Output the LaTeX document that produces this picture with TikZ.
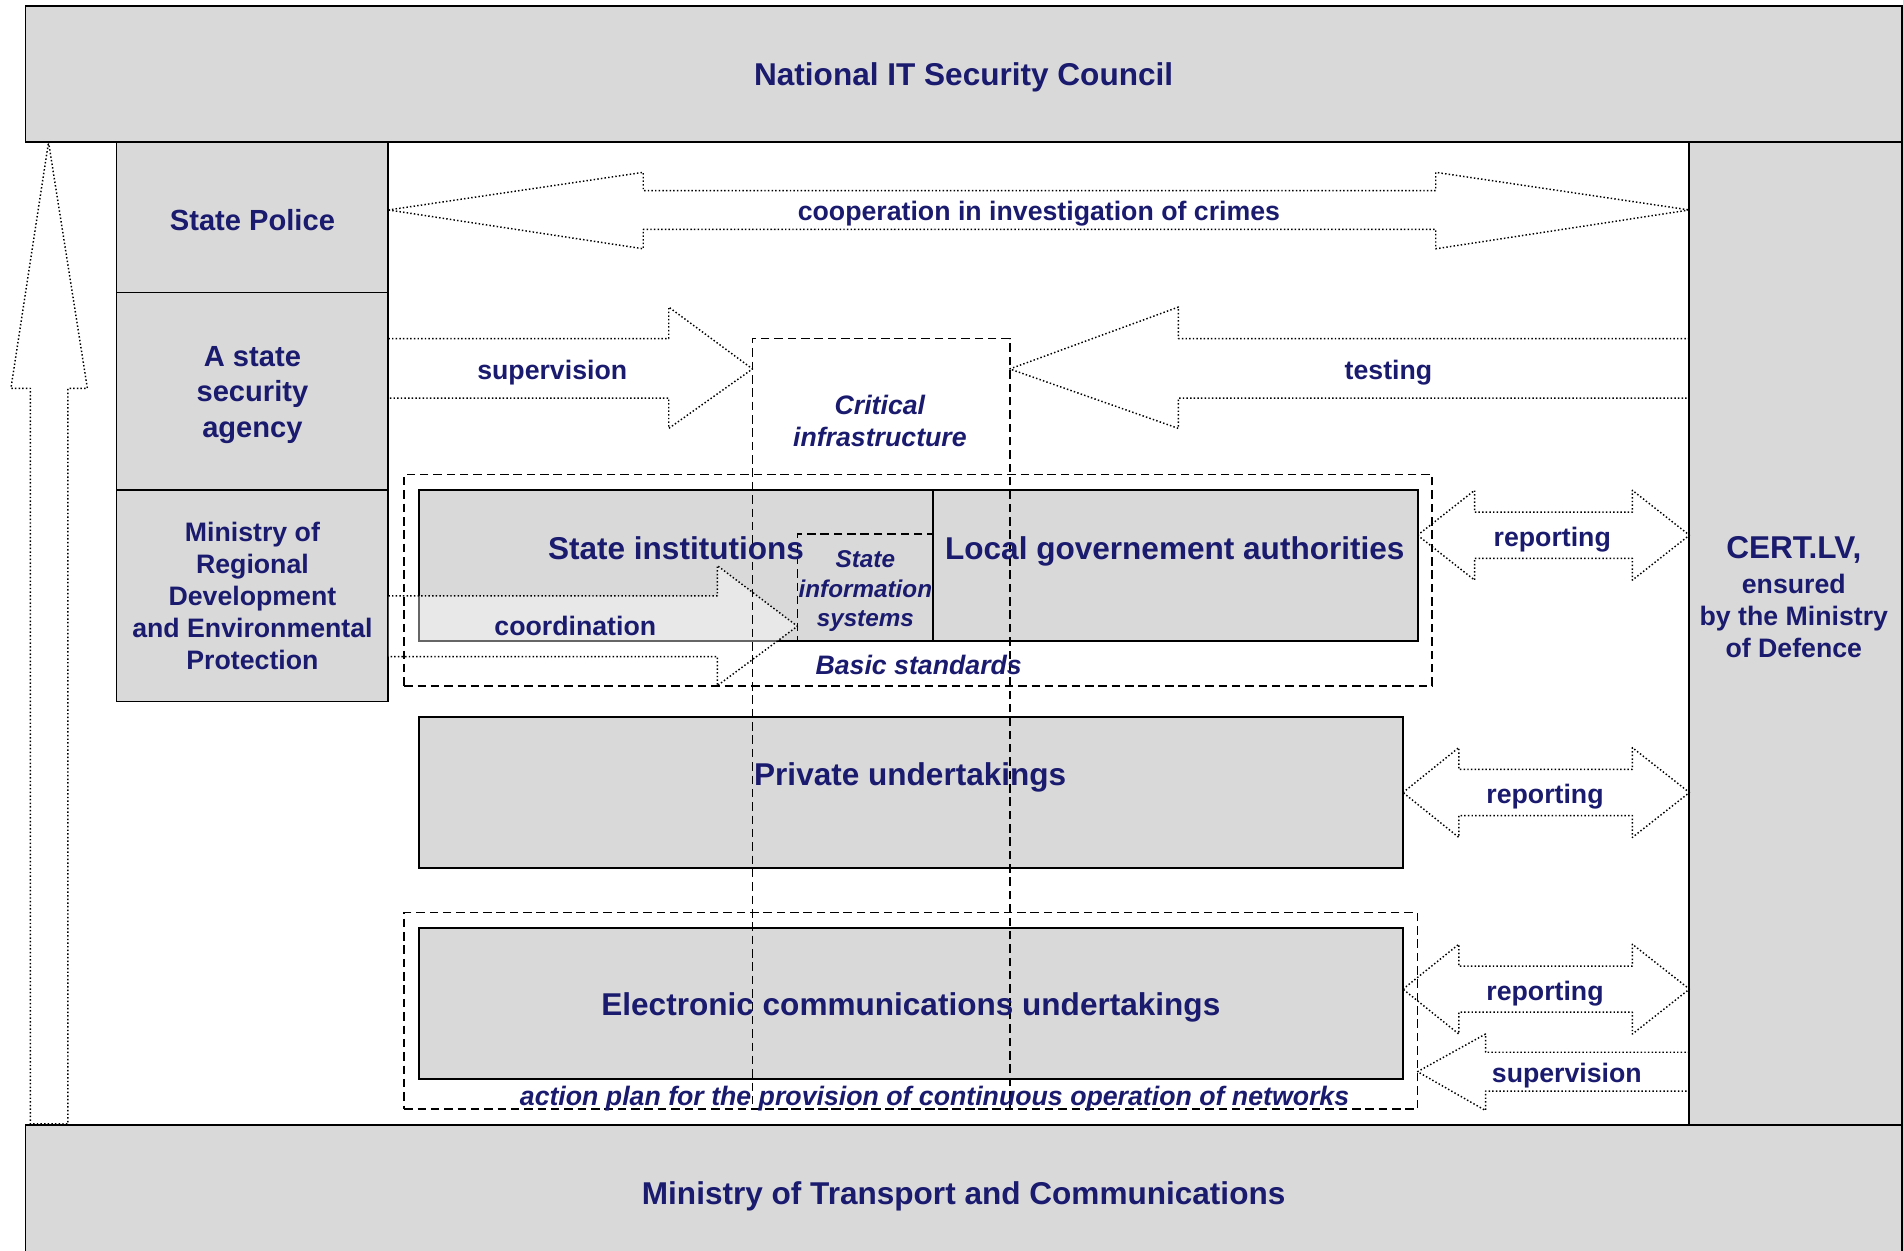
\documentclass[tikz,border=0pt]{standalone}
\usepackage{fontspec}
\setmainfont{Liberation Sans}
\usepackage{xcolor}
\usepackage{tikz}
\usetikzlibrary{positioning}

\definecolor{boxgray}{RGB}{217,217,217}
\definecolor{navy}{RGB}{26,26,110}

\begin{document}
\begin{tikzpicture}[x=1pt, y=-1pt,
  box/.style={draw, line width=1.6pt, fill=boxgray, inner sep=0pt, outer sep=0pt},
  frame/.style={draw, line width=1.3pt, dash pattern=on 7pt off 4pt, inner sep=0pt, outer sep=0pt},
  flow/.style={draw, line width=1.2pt, dash pattern=on 1.2pt off 1.8pt, line join=round},
  txt/.style={text=navy, font=\fontsize{22}{26.3}\selectfont\bfseries, align=center, inner sep=0pt},
  bigtxt/.style={txt, font=\fontsize{26}{30}\selectfont\bfseries},
  midtxt/.style={txt, font=\fontsize{24}{29.5}\selectfont\bfseries},
  ittxt/.style={txt, font=\fontsize{22}{26}\selectfont\bfseries\itshape}]

  \useasboundingbox (0,0) rectangle (1568,1030);

  \node[box, minimum width=1546pt, minimum height=112pt, anchor=north west] (council) at (21,5) {};
  \node[box, minimum width=1546pt, minimum height=114pt, anchor=north west] (transport) at (21,927) {};
  \node[box, minimum width=175pt, minimum height=810pt, anchor=north west] (cert) at (1392,117) {};

  \node[box, minimum width=224pt, minimum height=124pt, anchor=north west] (police) at (96,117) {};
  \node[box, minimum width=224pt, minimum height=163pt] (agency) [below=0pt of police] {};
  \node[box, txt, minimum width=224pt, minimum height=174pt] (regional) [below=0pt of agency] {Ministry of\\Regional\\Development\\and Environmental\\Protection};

  \node[box, minimum width=424pt, minimum height=124pt, anchor=north west] (stateinst) at (345,404) {};
  \node[box, minimum width=399pt, minimum height=124pt] (localgov) [right=0pt of stateinst] {};
  \node[box, minimum width=811pt, minimum height=124pt, anchor=north west] (private) at (345,591) {};
  \node[box, minimum width=811pt, minimum height=124pt, anchor=north west] (electronic) at (345,765) {};

  \fill[white, fill opacity=0.4] (320,491) -- (591,491) -- (591,466) -- (657,516) -- (591,565) -- (591,541) -- (320,541) -- cycle;
  \draw[flow] (320,491) -- (591,491) -- (591,466) -- (657,516) -- (591,565) -- (591,541) -- (320,541);

  \draw[flow] (40,117) -- (72,320) -- (56,320) -- (56,926) -- (25,926) -- (25,320) -- (9,320) -- cycle;
  \draw[flow] (320,173) -- (530,142) -- (530,157) -- (1183,157) -- (1183,142) -- (1392,173)
    -- (1183,205) -- (1183,189) -- (530,189) -- (530,205) -- cycle;
  \draw[flow] (320,279) -- (551,279) -- (551,253) -- (620,304) -- (551,353) -- (551,328) -- (320,328);
  \draw[flow] (1392,279) -- (971,279) -- (971,253) -- (832,304) -- (971,353) -- (971,328) -- (1392,328);

  \draw[flow] (1168,441) -- (1215,404) -- (1215,422) -- (1345,422) -- (1345,404) -- (1392,441)
    -- (1345,478) -- (1345,460) -- (1215,460) -- (1215,478) -- cycle;
  \draw[flow] (1156,653) -- (1202,616) -- (1202,634) -- (1345,634) -- (1345,616) -- (1392,653)
    -- (1345,690) -- (1345,672) -- (1202,672) -- (1202,690) -- cycle;
  \draw[flow] (1156,815) -- (1202,778) -- (1202,796) -- (1345,796) -- (1345,778) -- (1392,815)
    -- (1345,852) -- (1345,834) -- (1202,834) -- (1202,852) -- cycle;
  \draw[flow] (1392,867) -- (1224,867) -- (1224,852) -- (1168,883) -- (1224,915) -- (1224,899) -- (1392,899);

  \node[frame, minimum width=847pt, minimum height=174pt, anchor=north west] (basic) at (333,391) {};
  \node[frame, minimum width=835pt, minimum height=162pt, anchor=north west] (actionplan) at (333,752) {};
  \node[frame, minimum width=212pt, minimum height=635pt, anchor=north west] (critical) at (620,279) {};
  \node[frame, minimum width=112pt, minimum height=88pt, anchor=north west] (infosys) at (657,440) {};

  \node[bigtxt] (counciltxt) at ([yshift=-3pt]council.center) {National IT Security Council};
  \node[bigtxt] (transporttxt) at ([yshift=-2pt]transport.center) {Ministry of Transport and Communications};
  \node[midtxt] (policetxt) at ([yshift=-2pt]police.center) {State Police};
  \node[midtxt] (agencytxt) at ([yshift=-3pt]agency.center) {A state\\security\\agency};
  \node[bigtxt] (electronictxt) at ([yshift=-3pt]electronic.center) {Electronic communications undertakings};
  \node[ittxt, font=\fontsize{20}{24}\selectfont\bfseries\itshape] (infosystxt) at ([yshift=-3pt]infosys.center) {State\\information\\systems};

  \node[bigtxt, anchor=base] (sitxt) at (557,461) {State institutions};
  \node[bigtxt, anchor=base] (lgtxt) at (968,461) {Local governement authorities};
  \node[bigtxt, anchor=base] (privtxt) at (750,647) {Private undertakings};
  \node[txt] (certtxt) at (1478,492) {{\fontsize{26}{30}\selectfont CERT.LV,}\\[2.5pt]ensured\\by the Ministry\\of Defence};

  \node[txt, anchor=base] (cooptxt) at (856,182) {cooperation in investigation of crimes};
  \node[txt, anchor=base] (suptxt) at (455,313) {supervision};
  \node[txt, anchor=base] (testtxt) at (1144,313) {testing};
  \node[txt, anchor=base] (coordtxt) at (474,524) {coordination};
  \node[txt, anchor=base] (rep1) at (1279,450) {reporting};
  \node[txt, anchor=base] (rep2) at (1273,662) {reporting};
  \node[txt, anchor=base] (rep3) at (1273,824) {reporting};
  \node[txt, anchor=base] (sup2) at (1291,892) {supervision};

  \node[ittxt] (crittxt) at (725,347) {Critical\\infrastructure};
  \node[ittxt, anchor=base] (basictxt) at (757,556) {Basic standards};
  \node[ittxt, anchor=base] (plantxt) at (770,911) {action plan for the provision of continuous operation of networks};

\end{tikzpicture}
\end{document}
